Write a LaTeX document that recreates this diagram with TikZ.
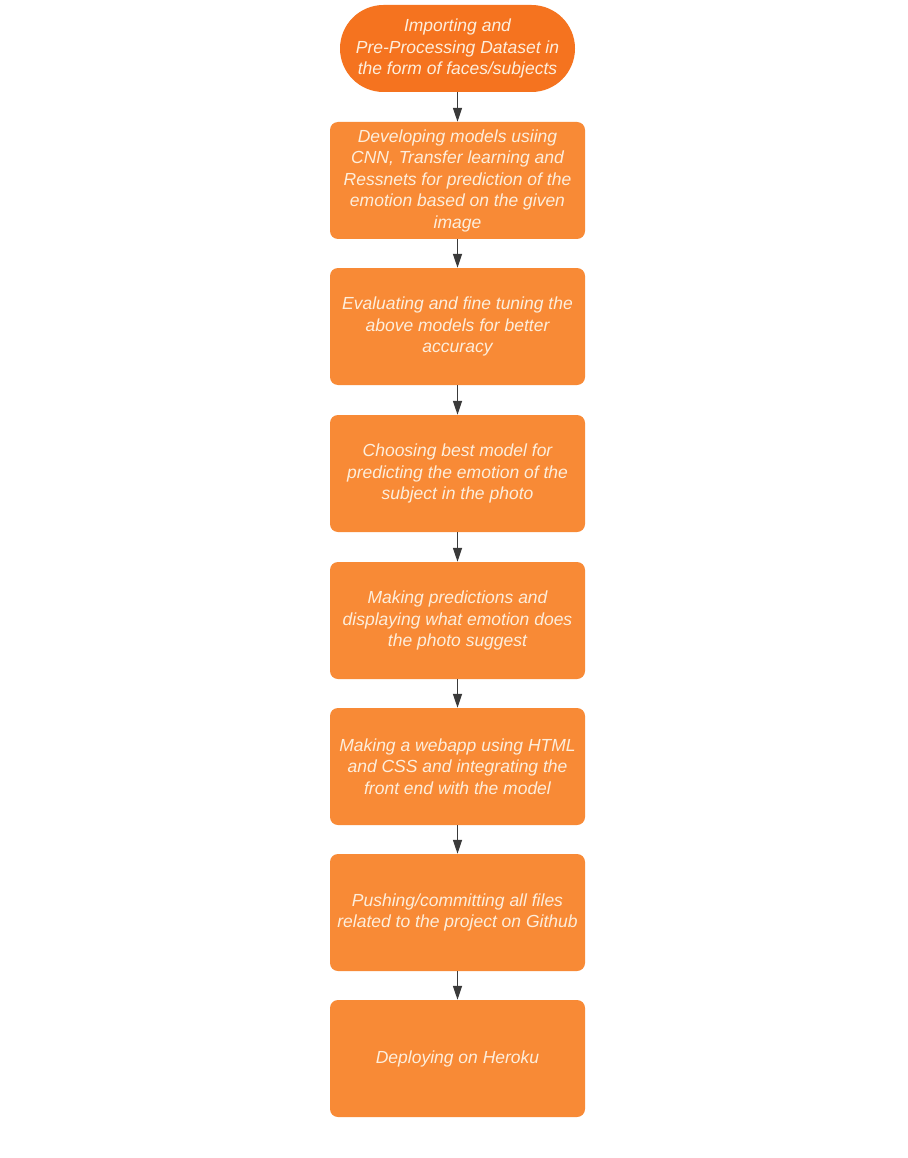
\documentclass[tikz,border=0pt]{standalone}
\usepackage{fontspec}
\setmainfont{Liberation Sans}
\usetikzlibrary{arrows.meta}
\definecolor{boxfill}{HTML}{F88A36}
\definecolor{topfill}{HTML}{F5731F}
\definecolor{txt}{HTML}{FDEEDC}
\definecolor{arrc}{HTML}{3A3A3A}
\tikzset{
  stepbox/.style={fill=boxfill, draw=none, rounded corners=8pt, minimum width=255pt, minimum height=117pt, inner sep=0pt, align=center, text=txt, font=\fontsize{17.5}{21.5}\selectfont\itshape},
  startbox/.style={fill=topfill, draw=none, rounded corners=43.5pt, minimum width=235pt, minimum height=87pt, inner sep=0pt, align=center, text=txt, font=\fontsize{17.5}{21.5}\selectfont\itshape},
  arr/.style={draw=arrc, line width=1.6pt, -{Triangle[length=14pt,width=9pt]}}
}
\begin{document}
\begin{tikzpicture}[x=1pt,y=-1pt]
\fill[white] (0,0) rectangle (907,1158);
\useasboundingbox (0,0) rectangle (907,1158);
\node[startbox] (s) at (457.5,48.5) {Importing and\\Pre-Processing Dataset in\\the form of faces/subjects};
\node[stepbox] (b1) at (457.5,180.5) {Developing models usiing\\CNN, Transfer learning and\\Ressnets for prediction of the\\emotion based on the given\\image};
\node[stepbox] (b2) at (457.5,326.5) {Evaluating and fine tuning the\\above models for better\\accuracy};
\node[stepbox] (b3) at (457.5,473.5) {Choosing best model for\\predicting the emotion of the\\subject in the photo};
\node[stepbox] (b4) at (457.5,620.5) {Making predictions and\\displaying what emotion does\\the photo suggest};
\node[stepbox] (b5) at (457.5,766.5) {Making a webapp using HTML\\and CSS and integrating the\\front end with the model};
\node[stepbox] (b6) at (457.5,912.5) {Pushing/committing all files\\related to the project on Github};
\node[stepbox] (b7) at (457.5,1058.5) {Deploying on Heroku};
\draw[arr] (s.south) -- (b1.north);
\draw[arr] (b1.south) -- (b2.north);
\draw[arr] (b2.south) -- (b3.north);
\draw[arr] (b3.south) -- (b4.north);
\draw[arr] (b4.south) -- (b5.north);
\draw[arr] (b5.south) -- (b6.north);
\draw[arr] (b6.south) -- (b7.north);
\end{tikzpicture}
\end{document}
